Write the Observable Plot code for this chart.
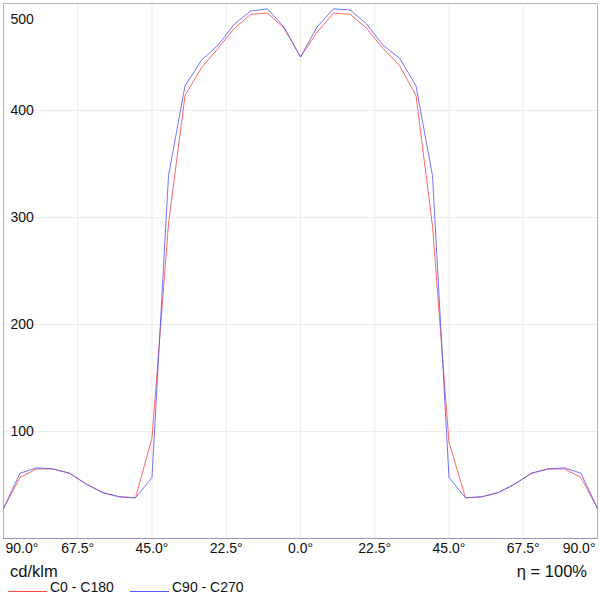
<!DOCTYPE html>
<html>
<head>
<meta charset="utf-8">
<script src="https://cdn.jsdelivr.net/npm/d3@7"></script>
<script src="https://cdn.jsdelivr.net/npm/@observablehq/plot@0.6"></script>
<style>
  html, body { margin: 0; padding: 0; background: #fff; }
  body { font-family: "Liberation Sans", Arial, sans-serif; color: #111; }
  #wrap { position: relative; width: 600px; height: 600px; overflow: hidden; }
  #chart svg { display: block; }
  .cap { position: absolute; white-space: nowrap; line-height: 1; }
  .sw { position: absolute; height: 0; border-top: 1px solid; }
</style>
</head>
<body>
<div id="wrap">
  <div id="chart"></div>
  <div class="cap" style="left:10px; top:563px; font-size:16.5px;">cd/klm</div>
  <div class="cap" style="right:13px; top:563px; font-size:16.5px;">η = 100%</div>
  <div id="legend"></div>
</div>
<script>
// Angles (degrees) and luminous intensity (cd/klm)
const angles = [-90,-85,-80,-75,-70,-65,-60,-55,-50,-45,-40,-35,-30,-25,-20,-15,-10,-5,0,5,10,15,20,25,30,35,40,45,50,55,60,65,70,75,80,85,90];
const c0c180 = [28,57,65,65,61,51,43,39,38,94,294,414,440,458,477,490,491,477,450,473,491,490,477,458,442,414,292,90,38,39,43,51,61,65,65,57,28];
const c90c270 = [28,61,66,65,61,51,43,39,38,57,339,423,447,461,481,493,495,478,450,478,495,494,481,461,449,423,339,57,38,39,43,51,61,65,66,61,28];
const seriesNames = ["C0 - C180", "C90 - C270"];
const seriesColors = ["#ff4a4a", "#5a5aff"];
const xTicks = [-67.5, -45, -22.5, 0, 22.5, 45, 67.5];
const xEnds = [-90, 90];
const yTicks = [100, 200, 300, 400];
const yTop = [500];

const rows = [];
angles.forEach((a, i) => {
  rows.push({angle: a, value: c0c180[i], series: seriesNames[0]});
});
angles.forEach((a, i) => {
  rows.push({angle: a, value: c90c270[i], series: seriesNames[1]});
});

const fmtX = d => Math.abs(d).toFixed(1) + "°";
const fs = 14;

const chart = Plot.plot({
  width: 600,
  height: 558,
  marginTop: 3,
  marginBottom: 20,
  marginLeft: 3,
  marginRight: 3,
  style: {fontFamily: "Liberation Sans, Arial, sans-serif", color: "#111", background: "#fff"},
  x: {domain: [-90, 90], axis: null},
  y: {domain: [0, 500], axis: null},
  color: {domain: seriesNames, range: seriesColors},
  marks: [
    Plot.gridX(xTicks, {stroke: "#ececec", strokeOpacity: 1}),
    Plot.gridY(yTicks, {stroke: "#ececec", strokeOpacity: 1}),
    Plot.frame({stroke: "#b4b4b4"}),
    Plot.line(rows, {x: "angle", y: "value", z: "series", stroke: "series", strokeWidth: 0.85}),
    Plot.ruleY([0], {stroke: "#9a8fbd", strokeWidth: 1.2}),
    Plot.text(yTicks, {y: d => d, text: d => String(d), frameAnchor: "left", textAnchor: "start", dx: 7, fontSize: fs, fill: "#111"}),
    Plot.text(yTop, {y: d => d, text: d => String(d), frameAnchor: "left", textAnchor: "start", dx: 7, dy: 16, fontSize: fs, fill: "#111"}),
    Plot.text(xTicks, {x: d => d, text: fmtX, frameAnchor: "bottom", lineAnchor: "top", dy: 5, fontSize: fs, fill: "#111"}),
    Plot.text([xEnds[0]], {x: d => d, text: fmtX, frameAnchor: "bottom", lineAnchor: "top", textAnchor: "start", dx: 2, dy: 5, fontSize: fs, fill: "#111"}),
    Plot.text([xEnds[1]], {x: d => d, text: fmtX, frameAnchor: "bottom", lineAnchor: "top", textAnchor: "end", dx: -2, dy: 5, fontSize: fs, fill: "#111"})
  ]
});
document.getElementById("chart").appendChild(chart);

// Legend
const legend = document.getElementById("legend");
const legendPos = [{sw: 8, tx: 50}, {sw: 130, tx: 172}];
seriesNames.forEach((name, i) => {
  const sw = document.createElement("div");
  sw.className = "sw";
  sw.style.left = legendPos[i].sw + "px";
  sw.style.width = "39px";
  sw.style.top = "591px";
  sw.style.borderTopColor = seriesColors[i];
  legend.appendChild(sw);
  const t = document.createElement("div");
  t.className = "cap";
  t.style.left = legendPos[i].tx + "px";
  t.style.top = "580px";
  t.style.fontSize = "14px";
  t.textContent = name;
  legend.appendChild(t);
});
</script>
</body>
</html>
